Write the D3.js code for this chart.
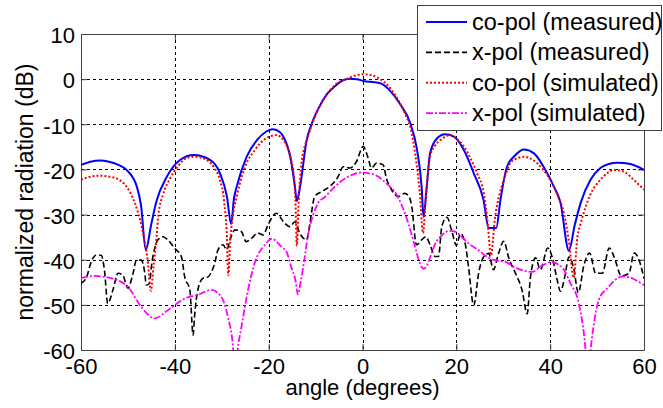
<!DOCTYPE html>
<html lang="en">

<head>
  <meta charset="UTF-8">
  <title>Radiation pattern</title>
  <script src="https://cdn.jsdelivr.net/npm/d3@7"></script>
  <style>
    body { margin: 0; background: #fff; }
    text { font-family: "Liberation Sans", Arial, sans-serif; fill: #000; }
  </style>
</head>

<body>
  <svg width="663" height="408" id="chart"></svg>

  <script>
    // values (angle in degrees, level in dB)
    const coMeasAngle = [-60, -58, -56, -54, -52, -50.3, -48.1, -47.2, -46.2, -45, -43.9, -41.7, -38.9, -36, -32.5, -30.4, -28.9, -28.0, -27.4, -26.8, -24.7, -22.5, -20.5, -19.1, -17.5, -16.9, -15.4, -14.4, -14.0, -13.3, -11.9, -10.9, -9.3, -7.7, -5.9, -4.0, -2.5, -1.2, 0.2, 2.6, 4.0, 5.9, 8.0, 10.2, 11.6, 12.6, 13.0, 13.7, 14.4, 15.9, 17.6, 19.4, 21.6, 23.7, 25.8, 26.9, 28.5, 29.4, 30.8, 32.6, 34.4, 36.5, 38.6, 40.8, 42.2, 44.0, 45.2, 46.5, 48.6, 50.7, 52.5, 54.3, 57.1, 60];
    const coMeasValue = [-19.0, -18.3, -18.0, -18.3, -19.0, -20.1, -23.8, -28, -37.8, -32, -27, -21.6, -17.9, -16.8, -17.9, -20.8, -26, -32.1, -26.5, -23.8, -17.2, -13.5, -11.6, -11.1, -11.8, -12.7, -17.2, -23.8, -27.0, -23.8, -13.5, -10.1, -6.3, -3.5, -1.6, -0.2, 0.1, 0, -0.4, -0.7, -1.0, -2.6, -5.5, -9.8, -15.5, -23.8, -30.5, -23.8, -16.4, -13.1, -12.2, -12.7, -15.7, -20.8, -26.8, -33, -33, -26.8, -19.4, -16.8, -15.6, -16.4, -19.4, -23.8, -27.4, -38, -32.5, -27.4, -22.3, -19.7, -18.8, -18.5, -18.8, -20.1];

    const xMeasAngle = [-60, -58.9, -57.8, -56.8, -55.7, -55, -54.3, -53.2, -52.1, -51.1, -50, -48.9, -48.2, -47.2, -46.4, -46.1, -45.4, -45, -43.6, -42.5, -41.5, -40, -38.6, -37.9, -36.8, -36.1, -35.8, -35.1, -34, -32.9, -32.2, -31.5, -30.8, -29.7, -29, -28, -27.2, -25.8, -24.8, -23.7, -22.3, -21.2, -20.1, -18.4, -16.6, -15.5, -14.4, -13.4, -11.9, -11.2, -10.2, -8.7, -7, -5.2, -4.1, -2.7, -1.3, 0.15, 1.2, 1.9, 3, 4.4, 5.1, 6.2, 7.6, 9, 10.1, 10.5, 11.5, 12.6, 13.5, 14.4, 15.5, 16.2, 16.9, 18, 19, 20, 20.9, 21.9, 22.6, 23.7, 24.8, 25.8, 26.9, 27.9, 29, 30.1, 31.2, 32.6, 34, 35.1, 35.8, 36.9, 37.9, 39.5, 40.5, 41.5, 42.2, 43.1, 44, 45, 46, 47.2, 48.4, 49.7, 51.1, 52.6, 53.6, 55.2, 56.8, 57.9, 59.3, 60];
    const xMeasValue = [-45.2, -44.1, -40.4, -39, -39, -42.3, -49.7, -46.7, -43, -43.4, -46.3, -43, -40.1, -40.1, -43, -45.6, -45.2, -41.6, -35.6, -34.9, -35.6, -37.5, -39.3, -43.8, -46.7, -56.7, -52.6, -46.7, -44.1, -43.8, -42.7, -40.8, -37.8, -36.7, -37.8, -34.9, -33.4, -33.8, -36, -35.3, -34.1, -34.5, -32.2, -29.7, -31.9, -32.7, -31.6, -34.1, -35.6, -31.9, -26, -24.9, -23.8, -21.6, -19.4, -19.7, -18.3, -14.9, -17.5, -19.7, -18.6, -19, -22, -24.5, -26, -25.3, -26.4, -28.2, -36.7, -35.6, -34.9, -36.7, -39.3, -39.3, -32.7, -30.6, -33.5, -36.8, -34.2, -36.5, -41.6, -50.1, -42.7, -39.4, -38.6, -42.2, -38.6, -35.9, -39.7, -43, -46.7, -52, -43.8, -39.6, -42.2, -37.4, -39.7, -44.5, -47, -43.8, -39.4, -41.8, -47.3, -41.2, -38.5, -43, -43, -37.4, -39.3, -43.6, -43, -38.5, -41.2, -44.2];

    const coSimAngle = [-60, -58, -56, -54, -52.4, -50.3, -48.5, -47, -45.8, -45.1, -44.5, -43.9, -43.5, -42.5, -41, -39.5, -37.5, -35.7, -33.2, -31.5, -30.4, -29.5, -28.9, -28.6, -28.2, -27.6, -26.8, -25.7, -24.7, -23, -21.8, -20, -18.3, -17, -16.1, -15.2, -14.7, -14.3, -14.0, -13.6, -13, -11.6, -9.5, -7.5, -5.9, -3.0, -1.5, 0.2, 1.8, 3.4, 4.8, 6.2, 7.6, 9.0, 10.5, 11.5, 12.2, 12.9, 13.5, 14.4, 15.4, 16.6, 18.7, 20.2, 21.6, 23, 24.4, 25.8, 26.6, 27.4, 28.2, 29.2, 30.4, 31.5, 33, 34.4, 35.8, 37.2, 38.6, 40, 41.5, 43, 44, 45, 45.8, 46.5, 47.5, 48.6, 50.7, 52.2, 53.6, 55.7, 57.8, 60];
    const coSimValue = [-22.3, -21.6, -21.4, -21.6, -22, -23.8, -27.5, -33, -40, -46.9, -41, -35, -30, -25.5, -22, -19.5, -17.5, -17.2, -17.9, -19.8, -22.3, -27, -35, -43.5, -36, -30, -26, -21.5, -18.6, -15.8, -14.2, -12.8, -12.4, -13.3, -14.9, -18, -20.8, -27, -36.9, -27, -18.6, -12.7, -6.8, -3.3, -1.3, 0.2, 0.8, 1.1, 0.9, 0.2, -0.8, -2.4, -4.6, -7.5, -12, -18.6, -25, -34.1, -26, -17.2, -14.8, -13.5, -12.4, -13.3, -14.9, -17.5, -20.8, -25, -31, -39, -31, -25.5, -21.5, -18.6, -17.5, -17.2, -17.6, -18.6, -20.2, -22.3, -25.5, -30, -36, -44, -35, -32, -28.5, -25.5, -22.3, -20.8, -20.1, -20.5, -22.3, -24.5];

    const xSimAngle = [-60, -57.1, -53.6, -50, -47.2, -44.3, -41.5, -37.9, -35.1, -32.2, -30.1, -28.7, -27.6, -27.1, -26.6, -25.8, -24.4, -23, -20.8, -19.3, -17.3, -16.1, -15.2, -14.2, -13.8, -13.2, -12.4, -11.6, -10.5, -9.5, -8, -5.9, -3.05, -0.2, 2.6, 5.1, 7.4, 9.75, 11.2, 12.3, 13, 13.7, 14.7, 15.5, 16.9, 18.5, 19.8, 21.5, 23, 24.6, 26.9, 28.7, 30.5, 32.5, 34, 36.1, 38.3, 40.2, 42.7, 44.3, 46.1, 47.5, 48, 48.6, 49.2, 50.4, 52.5, 53.6, 55.5, 57, 58.2, 60];
    const xSimValue = [-44.1, -43.6, -44.1, -46, -50.4, -53, -51.2, -48.6, -47.8, -46.7, -48.2, -52.6, -59.3, -66, -60, -54.9, -46.7, -40.8, -36.7, -35.4, -37.1, -38.5, -41.6, -45, -47.7, -45, -40, -34.5, -30, -27.5, -26.1, -23.8, -21.6, -20.7, -21.2, -23.1, -25.8, -31.9, -37.1, -41, -42, -41.3, -38.6, -36.5, -34.6, -33.6, -33.8, -35.3, -36.7, -37.8, -39.6, -40.2, -40.5, -41.7, -42.3, -42.7, -41.3, -40.5, -41.9, -45.2, -49.7, -59.5, -66, -60, -55, -48.8, -46, -44.7, -43.7, -43.9, -44.5, -45.6];

    const xTicks = [-60, -40, -20, 0, 20, 40, 60];
    const yTicks = [10, 0, -10, -20, -30, -40, -50, -60];
    const seriesNames = ["co-pol (measured)", "x-pol (measured)", "co-pol (simulated)", "x-pol (simulated)"];

    const svg = d3.select("#chart");
    const margin = { top: 34, right: 19, bottom: 58, left: 81 };
    const width = +svg.attr("width");
    const height = +svg.attr("height");

    const x = d3.scaleLinear().domain([-60, 60]).range([margin.left, width - margin.right]);
    const y = d3.scaleLinear().domain([-60, 10]).range([height - margin.bottom, margin.top]);

    svg.append("defs").append("clipPath").attr("id", "plotClip")
      .append("rect")
      .attr("x", x(-60)).attr("y", y(10))
      .attr("width", x(60) - x(-60)).attr("height", y(-60) - y(10));

    // grid
    const grid = svg.append("g").attr("stroke", "#000").attr("stroke-width", 1).attr("stroke-dasharray", "3,3");
    grid.selectAll("line.vg").data(xTicks.slice(1, -1)).join("line")
      .attr("x1", d => Math.round(x(d)) + 0.5).attr("x2", d => Math.round(x(d)) + 0.5)
      .attr("y1", y(10)).attr("y2", y(-60));
    grid.selectAll("line.hg").data(yTicks.slice(1, -1)).join("line")
      .attr("y1", d => Math.round(y(d)) + 0.5).attr("y2", d => Math.round(y(d)) + 0.5)
      .attr("x1", x(-60)).attr("x2", x(60));

    // axes (ticks pointing inward, box all round), plain hyphen like matlab
    const fmt = d => String(d);
    const xAxis = svg.append("g")
      .attr("transform", `translate(0,${y(-60)})`)
      .call(d3.axisBottom(x).tickValues(xTicks).tickFormat(fmt).tickSizeInner(-6).tickSizeOuter(0).tickPadding(8));
    const yAxis = svg.append("g")
      .attr("transform", `translate(${x(-60)},0)`)
      .call(d3.axisLeft(y).tickValues(yTicks).tickFormat(fmt).tickSizeInner(-6).tickSizeOuter(0).tickPadding(6));
    svg.append("g").attr("transform", `translate(0,${y(10)})`)
      .call(d3.axisTop(x).tickValues(xTicks).tickSizeInner(-6).tickSizeOuter(0).tickFormat(""));
    svg.append("g").attr("transform", `translate(${x(60)},0)`)
      .call(d3.axisRight(y).tickValues(yTicks).tickSizeInner(-6).tickSizeOuter(0).tickFormat(""));
    svg.selectAll(".domain, .tick line").attr("stroke", "#404040");
    svg.selectAll(".tick text").style("font-size", "22px").attr("fill", "#000");
    yAxis.selectAll(".tick text").attr("dy", "0.4em");

    // curves
    const line = d3.line()
      .x(d => x(d[0]))
      .y(d => y(d[1]))
      .curve(d3.curveMonotoneX);

    const series = [
      { ang: coMeasAngle, val: coMeasValue, color: "#0000ff", dash: null, w: 2 },
      { ang: xMeasAngle, val: xMeasValue, color: "#000000", dash: "6,3", w: 1.6 },
      { ang: coSimAngle, val: coSimValue, color: "#ff0000", dash: "2,2", w: 2 },
      { ang: xSimAngle, val: xSimValue, color: "#ff00ff", dash: "7,2,2,2", w: 1.8 }
    ];

    const plot = svg.append("g").attr("clip-path", "url(#plotClip)");
    plot.selectAll("path.curve").data(series).join("path")
      .attr("class", "curve")
      .attr("d", s => line(s.ang.map((a, i) => [a, s.val[i]])))
      .attr("fill", "none")
      .attr("stroke", s => s.color)
      .attr("stroke-width", s => s.w)
      .attr("stroke-dasharray", s => s.dash);

    // legend
    const legend = svg.append("g");
    legend.append("rect")
      .attr("x", 417.5).attr("y", 5.5).attr("width", 244).attr("height", 125)
      .attr("fill", "#fff").attr("stroke", "#404040").attr("stroke-width", 1);
    const rows = legend.selectAll("g.row").data(series).join("g")
      .attr("class", "row")
      .attr("transform", (d, i) => `translate(0,${22 + i * 30.4})`);
    rows.append("line")
      .attr("x1", 426).attr("x2", 467).attr("y1", 0).attr("y2", 0)
      .attr("stroke", d => d.color)
      .attr("stroke-width", d => d.w)
      .attr("stroke-dasharray", d => d.dash);
    rows.append("text")
      .attr("x", 472).attr("y", 8)
      .style("font-size", "23.5px")
      .text((d, i) => seriesNames[i]);

    // axis titles
    svg.append("text")
      .attr("x", x(0)).attr("y", 395)
      .attr("text-anchor", "middle")
      .style("font-size", "22px")
      .text("angle (degrees)");
    svg.append("text")
      .attr("transform", `translate(33,${(y(10) + y(-60)) / 2}) rotate(-90)`)
      .attr("text-anchor", "middle")
      .style("font-size", "23px")
      .text("normalized radiation (dB)");
  </script>

</body>

</html>
